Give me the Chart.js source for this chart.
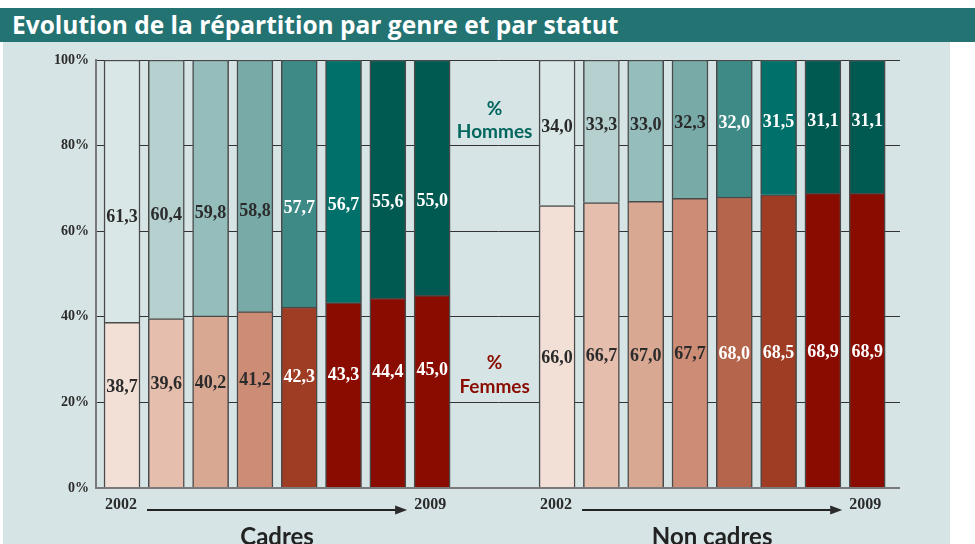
<!DOCTYPE html>
<html lang="fr">
  <head>
    <meta charset="utf-8">
    <script src="https://cdn.jsdelivr.net/npm/chart.js@4.4.1/dist/chart.umd.min.js"></script>
    <title>Evolution de la répartition par genre et par statut</title>
    <style>
      body { margin:0; background:#fff; width:975px; height:544px; overflow:hidden; position:relative; }
      #banner { position:absolute; top:8px; left:0; width:963px; height:34px; padding-left:12px;
                background:#237372; color:#fff; font:bold 24.5px "Open Sans", sans-serif; line-height:34px; }
      #panel { position:absolute; top:42px; left:3px; width:947px; height:502px; background:#d6e4e5; }
      #myChart { position:absolute; top:42px; left:0; }
    </style>
  </head>
  <body>
    <div id="banner">Evolution de la répartition par genre et par statut</div>
    <div id="panel"></div>
    <canvas id="myChart" width="975" height="502"></canvas>

    <script>
      // values (%), 2002 -> 2009
      var years = ['2002','2003','2004','2005','2006','2007','2008','2009'];
      var cadresFemmes = [38.7, 39.6, 40.2, 41.2, 42.3, 43.3, 44.4, 45.0];
      var cadresHommes = [61.3, 60.4, 59.8, 58.8, 57.7, 56.7, 55.6, 55.0];
      var nonCadresFemmes = [66.0, 66.7, 67.0, 67.7, 68.0, 68.5, 68.9, 68.9];
      var nonCadresHommes = [34.0, 33.3, 33.0, 32.3, 32.0, 31.5, 31.1, 31.1];
      var groups = ['Cadres', 'Non cadres'];
      var yTicks = [0, 20, 40, 60, 80, 100];

      // colours
      var femmesCadresCol = ['#f2dfd6','#e5beae','#d9a892','#cc8c75','#9e3c24','#8a0c00','#8a0c00','#8a0c00'];
      var hommesCadresCol = ['#dae7e7','#b5d0cf','#94bdbc','#78aba8','#3d8a86','#00706a','#005a52','#005a52'];
      var femmesNonCol = ['#f2dfd6','#e5beae','#d9a892','#cc8c75','#b5654b','#9e3c24','#8a0c00','#8a0c00'];
      var hommesNonCol = ['#dae7e7','#b5d0cf','#94bdbc','#78aba8','#3d8a86','#00706a','#005a52','#005a52'];

      var groupOffset = 9.82;
      var xs = [];
      for (var i = 0; i < years.length; i++) xs.push(i);
      for (var i = 0; i < years.length; i++) xs.push(i + groupOffset);

      function pts(a, b) {
        var all = a.concat(b);
        return all.map(function(v, i) { return {x: xs[i], y: v}; });
      }

      // where the label sits inside its segment (fraction from segment bottom)
      var labelFrac = { femmes: [0.61, 0.46], hommes: [0.40, 0.54] };

      function fmt(v) { return v.toFixed(1).replace('.', ','); }

      var labelsPlugin = {
        id: 'labels',
        afterDatasetsDraw: function(chart) {
          var c = chart.ctx;
          var ys = chart.scales.y;
          var xsc = chart.scales.x;
          var fem = chart.data.datasets[0].data;
          var hom = chart.data.datasets[1].data;
          c.save();
          c.font = 'bold 18px "Liberation Serif", serif';
          c.textAlign = 'center';
          c.textBaseline = 'middle';
          for (var i = 0; i < fem.length; i++) {
            var g = i < years.length ? 0 : 1;
            var k = i % years.length;
            var x = xsc.getPixelForValue(fem[i].x);
            c.fillStyle = k < 4 ? '#2b2b2b' : '#ffffff';
            c.fillText(fmt(fem[i].y), x, ys.getPixelForValue(fem[i].y * labelFrac.femmes[g]));
            c.fillText(fmt(hom[i].y), x, ys.getPixelForValue(fem[i].y + hom[i].y * labelFrac.hommes[g]));
          }

          // years, arrows, group names
          var base = chart.chartArea.bottom;
          for (var g = 0; g < 2; g++) {
            var x0 = xsc.getPixelForValue(xs[g * 8]);
            var x1 = xsc.getPixelForValue(xs[g * 8 + 7]);
            c.fillStyle = '#2b2b2b';
            c.font = 'bold 16px "Liberation Serif", serif';
            c.fillText(years[0], x0 - 1, base + 17);
            c.fillText(years[7], x1 - 2, base + 17);
            c.strokeStyle = '#222';
            c.lineWidth = 2;
            c.beginPath();
            c.moveTo(x0 + 25, base + 22);
            c.lineTo(x1 - 34, base + 22);
            c.stroke();
            c.beginPath();
            c.moveTo(x1 - 25, base + 22);
            c.lineTo(x1 - 37, base + 17.5);
            c.lineTo(x1 - 37, base + 26.5);
            c.closePath();
            c.fill();
            c.font = 'bold 24px Lato, sans-serif';
            c.fillStyle = '#222';
            c.textBaseline = 'alphabetic';
            c.fillText(groups[g], (x0 + x1) / 2, base + 57);
            c.textBaseline = 'middle';
          }

          // % Hommes / % Femmes in the middle gap
          var mid = (xsc.getPixelForValue(xs[7]) + xsc.getPixelForValue(xs[8])) / 2;
          c.font = 'bold 19px Lato, sans-serif';
          c.fillStyle = '#00665e';
          c.fillText('%', mid, ys.top + 49);
          c.fillText('Hommes', mid, ys.top + 72);
          c.fillStyle = '#8a0c00';
          c.fillText('%', mid, ys.top + 303);
          c.fillText('Femmes', mid, ys.top + 327);
          c.restore();
        }
      };

      var ctx = document.getElementById('myChart').getContext('2d');
      var chart = new Chart(ctx, {
        type: 'bar',
        data: {
          datasets: [
            {
              label: 'Femmes',
              data: pts(cadresFemmes, nonCadresFemmes),
              backgroundColor: femmesCadresCol.concat(femmesNonCol),
              borderColor: '#4a4a4a',
              borderWidth: 1.5,
              barThickness: 36
            },
            {
              label: 'Hommes',
              data: pts(cadresHommes, nonCadresHommes),
              backgroundColor: hommesCadresCol.concat(hommesNonCol),
              borderColor: '#4a4a4a',
              borderWidth: 1.5,
              barThickness: 36
            }
          ]
        },
        options: {
          responsive: false,
          animation: false,
          devicePixelRatio: 1,
          layout: { padding: { left: 0, right: 75, top: 18, bottom: 56 } },
          plugins: { legend: { display: false }, tooltip: { enabled: false } },
          scales: {
            x: {
              type: 'linear', min: -0.587, max: 17.56, offset: false,
              stacked: true, display: false
            },
            y: {
              stacked: true, min: 0, max: 100,
              afterBuildTicks: function(s) { s.ticks = yTicks.map(function(v) { return {value: v}; }); },
              afterFit: function(s) { s.width = 96; },
              ticks: {
                callback: function(v) { return v + '%'; },
                font: { family: '"Liberation Serif", serif', size: 14, weight: 'bold' },
                color: '#2b2b2b', padding: 7
              },
              grid: {
                drawTicks: false,
                color: function(c) { return c.tick && c.tick.value === 0 ? '#7a7a7a' : '#333'; },
                lineWidth: function(c) { return c.tick && c.tick.value === 0 ? 2 : 1; }
              },
              border: { display: true, color: '#7a7a7a', width: 2 }
            }
          }
        },
        plugins: [labelsPlugin]
      });
    </script>
  </body>
</html>
